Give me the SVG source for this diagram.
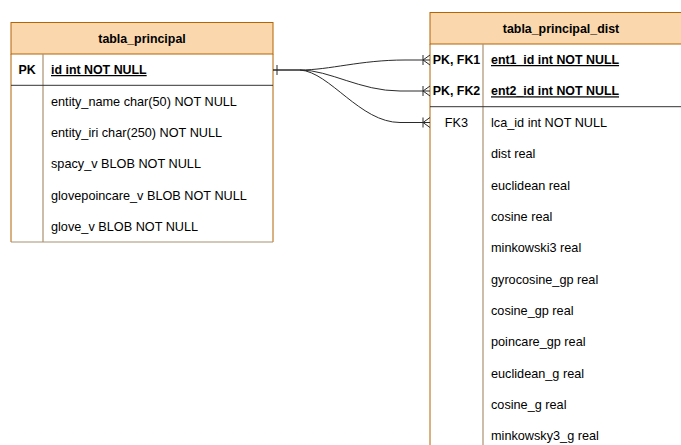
<svg xmlns="http://www.w3.org/2000/svg" width="681" height="445" viewBox="0 0 681 445">
<style>
text{font-family:"Liberation Sans",Arial,sans-serif;font-size:12.7px;fill:#000}
.h{font-weight:bold;text-anchor:middle;font-size:12.4px}
.k{font-weight:bold;text-anchor:middle;font-size:12.4px}
.kn{text-anchor:middle}
.u{font-weight:bold;text-decoration:underline;font-size:12.4px}
.hd{fill:#fad7ac;stroke:#b46504;stroke-width:1}
.bd{fill:#fff;stroke:none}
.edge{stroke:#b46504;stroke-width:1;fill:none}
.div{stroke:#a89272;stroke-width:1.2;fill:none}
.sep{stroke:#333;stroke-width:1;fill:none}
.con{stroke:#2a2a2a;stroke-width:1;fill:none}
</style>
<rect width="681" height="445" fill="#fff"/>
<g id="tabla_principal">
<rect class="bd" x="11" y="54" width="262" height="188"/>
<rect class="hd" x="11" y="22.5" width="262" height="31.5"/>
<text class="h" x="142" y="42.5">tabla_principal</text>
<path class="edge" d="M11,54V242M273,54V242"/>
<path class="div" d="M43,54V242M11,242H273"/>
<path class="sep" d="M11,85.3H273"/>
<text class="k" x="27" y="74">PK</text>
<text class="u" x="51" y="74">id int NOT NULL</text>
<text x="51" y="105.5">entity_name char(50) NOT NULL</text>
<text x="51" y="136.5">entity_iri char(250) NOT NULL</text>
<text x="51" y="168">spacy_v BLOB NOT NULL</text>
<text x="51" y="199.5">glovepoincare_v BLOB NOT NULL</text>
<text x="51" y="230.5">glove_v BLOB NOT NULL</text>
</g>
<g id="tabla_principal_dist">
<rect class="bd" x="430" y="44" width="262" height="410"/>
<rect class="hd" x="430" y="12.5" width="262" height="31.5"/>
<text class="h" x="561" y="32.5">tabla_principal_dist</text>
<path class="edge" d="M430,44V450"/>
<path class="div" d="M483,44V450"/>
<path class="sep" d="M430,106.7H692"/>
<text class="k" x="456.5" y="64">PK, FK1</text>
<text class="u" x="491" y="64">ent1_id int NOT NULL</text>
<text class="k" x="456.5" y="95.3">PK, FK2</text>
<text class="u" x="491" y="95.3">ent2_id int NOT NULL</text>
<text class="kn" x="456.5" y="127">FK3</text>
<text x="491" y="127">lca_id int NOT NULL</text>
<text x="491" y="158">dist real</text>
<text x="491" y="189.5">euclidean real</text>
<text x="491" y="220.8">cosine real</text>
<text x="491" y="252">minkowski3 real</text>
<text x="491" y="283.5">gyrocosine_gp real</text>
<text x="491" y="314.8">cosine_gp real</text>
<text x="491" y="346">poincare_gp real</text>
<text x="491" y="377.5">euclidean_g real</text>
<text x="491" y="408.8">cosine_g real</text>
<text x="491" y="440">minkowsky3_g real</text>
</g>
<g id="connectors">
<path class="con" d="M273,70H300C330,70 360,60 405,60H430"/>
<path class="con" d="M273,70H300C330,70 360,91 400,91H430"/>
<path class="con" d="M300,70C330,72 360,122.5 400,122.5H430"/>
<path class="con" d="M277,65V75"/>
<path class="con" d="M423,55V65M423,60L430,55M423,60L430,65"/>
<path class="con" d="M423,86V96M423,91L430,86M423,91L430,96"/>
<path class="con" d="M423,117.5V127.5M423,122.5L430,117.5M423,122.5L430,127.5"/>
</g>
</svg>
